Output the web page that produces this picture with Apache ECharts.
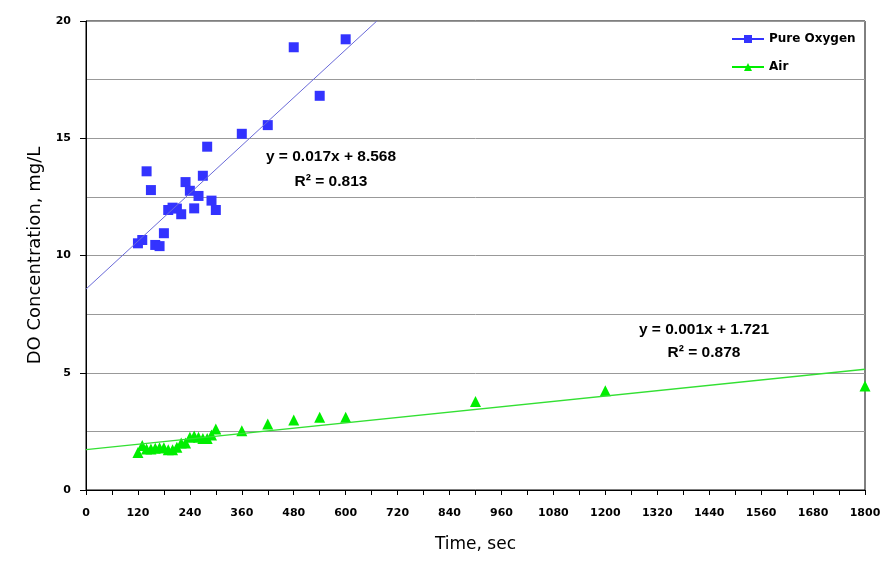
<!DOCTYPE html>
<html><head><meta charset="utf-8">
<script src="https://cdn.jsdelivr.net/npm/echarts@6/dist/echarts.min.js"></script>
<style>html,body{margin:0;padding:0;background:#fff}#c{width:895px;height:567px}</style>
</head><body><div id="c"></div>
<script>
const oxyTime = [120,130,140,150,160,170,180,190,200,210,220,230,240,250,260,270,280,290,300,360,420,480,540,600];
const oxyDO   = [10.52,10.66,13.59,12.79,10.45,10.4,10.95,11.94,12.04,12.0,11.76,13.13,12.76,12.01,12.54,13.4,14.64,12.34,11.94,15.19,15.56,18.88,16.81,19.22];
const airTime = [120,130,140,150,160,170,180,190,200,210,220,230,240,250,260,270,280,290,300,360,420,480,540,600,900,1200,1800];
const airDO   = [1.6,1.9,1.75,1.75,1.78,1.8,1.8,1.72,1.72,1.82,2.0,2.0,2.25,2.3,2.25,2.2,2.2,2.35,2.6,2.53,2.81,2.99,3.1,3.1,3.77,4.23,4.43];
const oxyTrendX = [0, 672];
const oxyTrendY = [8.568, 20];
const airTrendX = [0, 1800];
const airTrendY = [1.721, 5.15];
const oxyEq = ['y = 0.017x + 8.568', 'R² = 0.813'];
const airEq = ['y = 0.001x + 1.721', 'R² = 0.878'];
const seriesNames = ['Pure Oxygen', 'Air'];

const zip = (a, b) => a.map((v, i) => [v, b[i]]);
const chart = echarts.init(document.getElementById('c'), null, {renderer: 'canvas'});
const lblFont = {fontFamily: 'DejaVu Sans', fontWeight: 'bold', fontSize: 11, color: '#000'};
const eqStyle = {fontFamily: 'Liberation Sans', fontWeight: 'bold', fontSize: 15.5, fill: '#000', textAlign: 'center', textVerticalAlign: 'middle'};
chart.setOption({
  animation: false,
  grid: {left: 86, right: 30, top: 21, bottom: 77, show: true, borderColor: '#000', borderWidth: 1},
  legend: {
    orient: 'vertical', left: 726, top: 28, itemWidth: 32, itemHeight: 10, itemGap: 16,
    textStyle: {fontFamily: 'DejaVu Sans', fontWeight: 'bold', fontSize: 12, color: '#000'},
    lineStyle: {opacity: 1, width: 2},
    data: seriesNames
  },
  xAxis: {
    type: 'value', min: 0, max: 1800, interval: 60,
    name: 'Time, sec', nameLocation: 'middle', nameGap: 46,
    nameTextStyle: {fontFamily: 'DejaVu Sans', fontSize: 17, color: '#000'},
    axisLine: {onZero: false, lineStyle: {color: '#000', width: 1}},
    axisTick: {length: 5, lineStyle: {color: '#000'}},
    axisLabel: Object.assign({margin: 18, formatter: v => (v % 120 === 0 ? String(v) : '')}, lblFont),
    splitLine: {show: false}
  },
  yAxis: {
    type: 'value', min: 0, max: 20, interval: 5,
    name: 'DO Concentration, mg/L', nameLocation: 'middle', nameGap: 39, nameRotate: 90,
    nameTextStyle: {fontFamily: 'DejaVu Sans', fontSize: 18, color: '#000'},
    axisLine: {show: true, onZero: false, lineStyle: {color: '#000', width: 1}},
    axisTick: {show: true, length: 6, lineStyle: {color: '#000'}},
    axisLabel: Object.assign({margin: 15}, lblFont),
    splitLine: {show: true, lineStyle: {color: '#999999', width: 1}},
    minorTick: {show: false, splitNumber: 2},
    minorSplitLine: {show: true, lineStyle: {color: '#999999', width: 1}}
  },
  series: [
    {name: 'oxyTrend', type: 'line', data: zip(oxyTrendX, oxyTrendY), showSymbol: false, clip: true,
     lineStyle: {color: '#6a6ad8', width: 1}, itemStyle: {color: '#6a6ad8'}, silent: true, z: 3},
    {name: 'airTrend', type: 'line', data: zip(airTrendX, airTrendY), showSymbol: false, clip: true,
     lineStyle: {color: '#33e033', width: 1.3}, itemStyle: {color: '#33e033'}, silent: true, z: 3},
    {name: seriesNames[0], type: 'line', data: zip(oxyTime, oxyDO), symbol: 'rect', symbolSize: 10, showSymbol: true,
     lineStyle: {opacity: 0, width: 2, color: '#3333ff'}, itemStyle: {color: '#3333ff'}, z: 2},
    {name: seriesNames[1], type: 'line', data: zip(airTime, airDO), symbol: 'triangle', symbolSize: 11, showSymbol: true,
     lineStyle: {opacity: 0, width: 2, color: '#00ee00'}, itemStyle: {color: '#00ee00'}, z: 2}
  ],
  graphic: [
    {type: 'text', position: [331, 157], style: Object.assign({text: oxyEq[0]}, eqStyle)},
    {type: 'text', position: [331, 182], style: Object.assign({text: oxyEq[1]}, eqStyle)},
    {type: 'text', position: [704, 330], style: Object.assign({text: airEq[0]}, eqStyle)},
    {type: 'text', position: [704, 353], style: Object.assign({text: airEq[1]}, eqStyle)}
  ]
});
</script></body></html>
